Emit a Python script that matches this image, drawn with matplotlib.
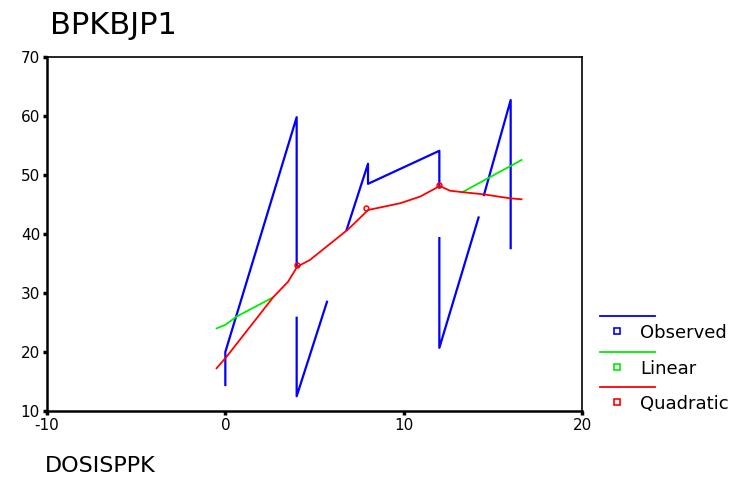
import numpy as np
import matplotlib
matplotlib.use("Agg")
from matplotlib import pyplot as plt
from matplotlib.lines import Line2D

plt.rcParams['font.family'] = ['DejaVu Sans']
plt.rcParams['axes.unicode_minus'] = False

# observed BPKBJP1 per dose, joined in data order (nan = break in the line)
obs_x = [0, 0, 4, 4, np.nan, 4, 4, 5.7, np.nan, 6.8, 8, 8, 12, 12, np.nan,
         12, 12, 14.2, np.nan, 14.5, 16, 16]
obs_y = [14.4, 20, 59.8, 34.7, np.nan, 25.8, 12.5, 28.5, np.nan, 40.7, 51.9, 48.5,
         54.1, 47.9, np.nan, 39.3, 20.7, 42.8, np.nan, 46.6, 62.7, 37.6]

# linear fit, predicted values (only the visible parts of the line)
lin_x = [-0.49, 0.0, 0.63, 2.68, np.nan, 13.28, 16.61]
lin_y = [24.0, 24.6, 26.0, 29.27, np.nan, 47.07, 52.54]

# quadratic fit, predicted values in x order
quad_x = [-0.49, 0.07, 2.68, 3.52, 4.03, 4.74, 6.89, 8.01, 9.79, 10.91,
          12.03, 12.59, 13.34, 14.46, 15.96, 16.61]
quad_y = [17.24, 19.2, 29.27, 31.92, 34.46, 35.59, 40.8, 44.07, 45.2, 46.32,
          48.14, 47.34, 47.07, 46.73, 46.05, 45.88]
quad_loops_x = [4.0, 7.9, 12.0]
quad_loops_y = [34.7, 44.4, 48.3]

fig = plt.figure(figsize=(7.4, 4.78), dpi=100)
ax = fig.add_axes([0.0635, 0.1402, 0.723, 0.7406])

ax.plot(obs_x, obs_y, color='#0000ff', lw=1.6, zorder=2)
ax.plot(lin_x, lin_y, color='#00ee00', lw=1.3, zorder=3)
ax.plot(quad_x, quad_y, color='#ff0000', lw=1.3, zorder=4)
ax.plot(quad_loops_x, quad_loops_y, 'o', ms=3.5, mfc='none', mec='#ff0000',
        mew=1.1, zorder=4)

ax.set_xlim(-10, 20)
ax.set_ylim(10, 70)
ax.set_xticks([-10, 0, 10, 20])
ax.set_yticks(range(10, 71, 10))
ax.tick_params(direction='out', length=3, width=2.5, labelsize=11, pad=2)
for side in ['top', 'right']:
    ax.spines[side].set_linewidth(1.2)
for side in ['left', 'bottom']:
    ax.spines[side].set_linewidth(1.8)

fig.text(50 / 740, 1 - 26 / 478, 'BPKBJP1', fontsize=22, va='center', ha='left')
fig.text(45 / 740, 1 - 466 / 478, 'DOSISPPK', fontsize=16, va='center', ha='left')

# legend drawn beside the plot
items = [('Observed', '#0000ff', 316), ('Linear', '#00ee00', 352), ('Quadratic', '#ff0000', 387)]
W, H = 740, 478
for name, col, ly in items:
    fig.add_artist(Line2D([600 / W, 655 / W], [1 - ly / H, 1 - ly / H],
                          color=col, lw=1.3, transform=fig.transFigure))
    fig.add_artist(Line2D([617 / W], [1 - (ly + 15) / H], marker='s', ms=5,
                          mfc='none', mec=col, mew=1.2, ls='none',
                          transform=fig.transFigure))
    fig.text(640 / W, 1 - (ly + 17) / H, name, fontsize=13, va='center', ha='left')

fig.savefig('out.png', dpi=100)
